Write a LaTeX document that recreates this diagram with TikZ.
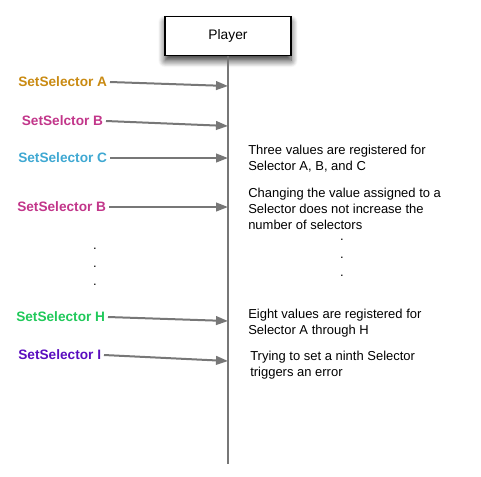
\documentclass[tikz,border=0pt]{standalone}
\usepackage{fontspec}
\setmainfont{Liberation Sans}
\usetikzlibrary{arrows.meta,shadows.blur}
\definecolor{msggray}{HTML}{777777}
\definecolor{selA}{HTML}{C98A12}
\definecolor{selB}{HTML}{C2368A}
\definecolor{selC}{HTML}{3FA8D2}
\definecolor{selH}{HTML}{20C95A}
\definecolor{selI}{HTML}{5A0DBF}
\begin{document}
\begin{tikzpicture}[x=0.75pt,y=-0.75pt,
  every node/.style={font=\fontsize{9.7bp}{12bp}\selectfont,align=left},
  selcall/.style={font=\bfseries\fontsize{10.2bp}{12bp}\selectfont,anchor=east,inner sep=2pt},
  note/.style={anchor=north west,inner sep=0pt},
  msg/.style={draw=msggray,line width=1.5pt,-{Triangle[length=9pt,width=6.5pt]}},
  dotmark/.style={inner sep=0pt}]
\useasboundingbox (0,0) rectangle (481,476);
\node[draw=black,fill=white,line width=0.8pt,minimum width=94.5pt,minimum height=29pt,
  font=\fontsize{10.3bp}{12bp}\selectfont,
  blur shadow={shadow xshift=0pt,shadow yshift=-4pt,shadow blur steps=8,shadow blur radius=5pt,shadow opacity=80}]
  (player) at (228,36) {Player};
\coordinate (lifeend) at (228,464);
\draw[msggray,line width=1.5pt] (player.south) -- (lifeend);
% calls
\node[selcall,text=selA] (setA) at (110,82) {SetSelector A};
\node[selcall,text=selB] (setB) at (106,121) {SetSelctor B};
\node[selcall,text=selC] (setC) at (110,158) {SetSelector C};
\node[selcall,text=selB] (setBb) at (109,207) {SetSelector B};
\node[selcall,text=selH] (setH) at (108,317) {SetSelector H};
\node[selcall,text=selI] (setI) at (104,355) {SetSelector I};
\coordinate (hitA) at (228,86);
\coordinate (hitB) at (228,126);
\coordinate (hitC) at (228,158);
\coordinate (hitBb) at (228,207);
\coordinate (hitH) at (228,321);
\coordinate (hitI) at (228,361);
\draw[msg] (setA.east) -- (hitA);
\draw[msg] (setB.east) -- (hitB);
\draw[msg] (setC.east) -- (hitC);
\draw[msg] (setBb.east) -- (hitBb);
\draw[msg] (setH.east) -- (hitH);
\draw[msg] (setI.east) -- (hitI);
\node[dotmark] (ldot1) at (95,249) {.};
\node[dotmark] (ldot2) at (95,267) {.};
\node[dotmark] (ldot3) at (95,285) {.};
% notes
\node[note] (noteABC) at (248,145) {Three values are registered for\\Selector A, B, and C};
\node[note] (noteB) at (248,188) {Changing the value assigned to a\\Selector does not increase the\\number of selectors};
\node[dotmark] (rdot1) at (342,240) {.};
\node[dotmark] (rdot2) at (342,258) {.};
\node[dotmark] (rdot3) at (342,276) {.};
\node[note] (noteH) at (248,309) {Eight values are registered for\\Selector A through H};
\node[note] (noteI) at (250,351) {Trying to set a ninth Selector\\triggers an error};
\end{tikzpicture}
\end{document}
